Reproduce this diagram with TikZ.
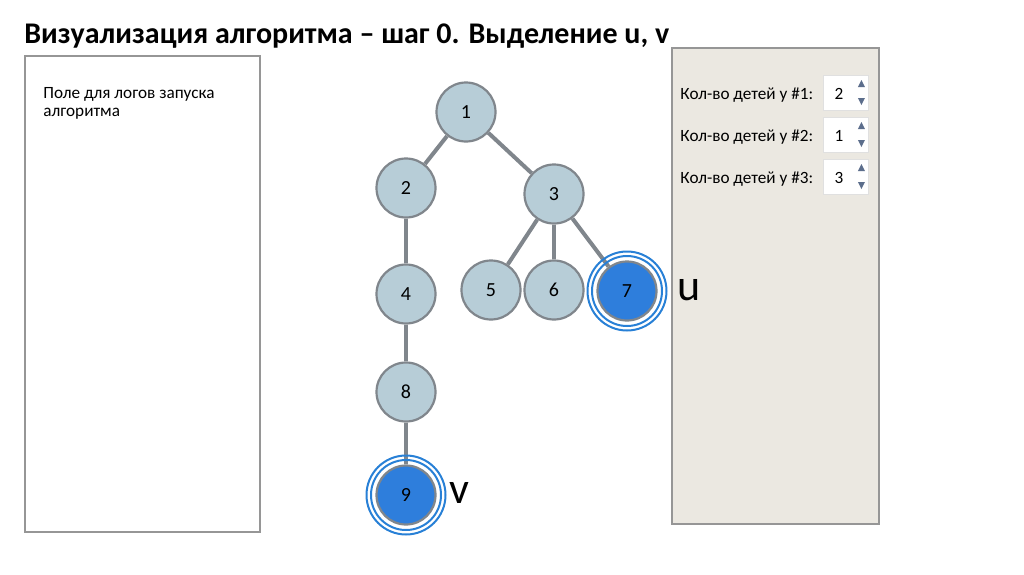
\documentclass[tikz,border=0pt]{standalone}
\usepackage{fontspec}
\setmainfont{Carlito}
\usetikzlibrary{positioning}
\definecolor{vertexfill}{RGB}{183,205,215}
\definecolor{edgegray}{RGB}{128,134,140}
\definecolor{markblue}{RGB}{46,126,220}
\definecolor{ringblue}{RGB}{40,128,214}
\definecolor{panelfill}{RGB}{235,232,225}
\definecolor{framegray}{RGB}{150,150,150}
\definecolor{spinarrow}{RGB}{92,110,140}

\tikzset{
  vertex/.style={circle, draw=edgegray, line width=1.1pt, fill=vertexfill,
    minimum size=29.5pt, inner sep=0pt, font=\fontsize{10}{12}\selectfont},
  marked/.style={vertex, fill=markblue},
  ring/.style={draw=ringblue, line width=1pt},
  treeedge/.style={draw=edgegray, line width=2pt},
  spinbox/.style={draw=black!12, fill=white, minimum width=22.5pt, minimum height=17.5pt, inner sep=0pt},
  smalltext/.style={font=\fontsize{8.6}{9}\selectfont}
}

\begin{document}
\begin{tikzpicture}[x=0.5pt, y=-0.5pt]
    \useasboundingbox (0,0) rectangle (1024,574);

    % title
    \node[anchor=base west, inner sep=0pt, font=\fontsize{15}{18}\selectfont\bfseries] (title) at (24,43)
        {Визуализация алгоритма – шаг 0. Выделение u, v};

    % log field
    \draw[framegray, line width=1pt] (25,56) rectangle (260,532);
    \node[anchor=base west, inner sep=0pt, smalltext] (logline1) at (43,98) {Поле для логов запуска};
    \node[anchor=base west, inner sep=0pt, smalltext] (logline2) at (43,116) {алгоритма};

    % settings panel
    \draw[framegray, fill=panelfill, line width=1pt] (672,48) rectangle (879,524);
    \foreach \i/\n/\y in {1/2/93, 2/1/135, 3/3/177} {
        \node[anchor=base west, inner sep=0pt, smalltext] (label\i) at (680,\y+6) {Кол-во детей у \#\i:};
        \node[spinbox] (spin\i) at (846,\y) {};
        \node[anchor=base, inner sep=0pt, smalltext] (count\i) at (839,\y+6) {\n};
        \fill[spinarrow] ([shift={(-11,-6)}]spin\i.east) -- ++(7,0) -- ++(-3.5,-7) -- cycle;
        \fill[spinarrow] ([shift={(-11,5)}]spin\i.east) -- ++(7,0) -- ++(-3.5,7) -- cycle;
    }

    % tree
    \node[vertex] (n1) at (466,112) {1};
    \node[vertex] (n2) at (406,188) {2};
    \node[vertex] (n3) at (554,194) {3};
    \node[vertex] (n4) at (406,294) {4};
    \node[vertex] (n5) at (491,290) {5};
    \node[vertex] (n6) at (554,290) {6};
    \node[marked] (n7) at (627,291) {7};
    \node[vertex] (n8) at (406,392) {8};
    \node[marked] (n9) at (406,495) {9};

    \foreach \a/\b in {n1/n2, n1/n3, n2/n4, n4/n8, n8/n9, n3/n5, n3/n6, n3/n7}
        \draw[treeedge] (\a) -- (\b);

    % selected pair
    \draw[ring] (n7) circle (17.5pt) circle (19.75pt);
    \draw[ring] (n9) circle (17.5pt) circle (19.75pt);
    \node[font=\fontsize{22}{24}\selectfont] (labelu) at (689,290) {u};
    \node[font=\fontsize{22}{24}\selectfont] (labelv) at (459,493) {v};
\end{tikzpicture}
\end{document}
